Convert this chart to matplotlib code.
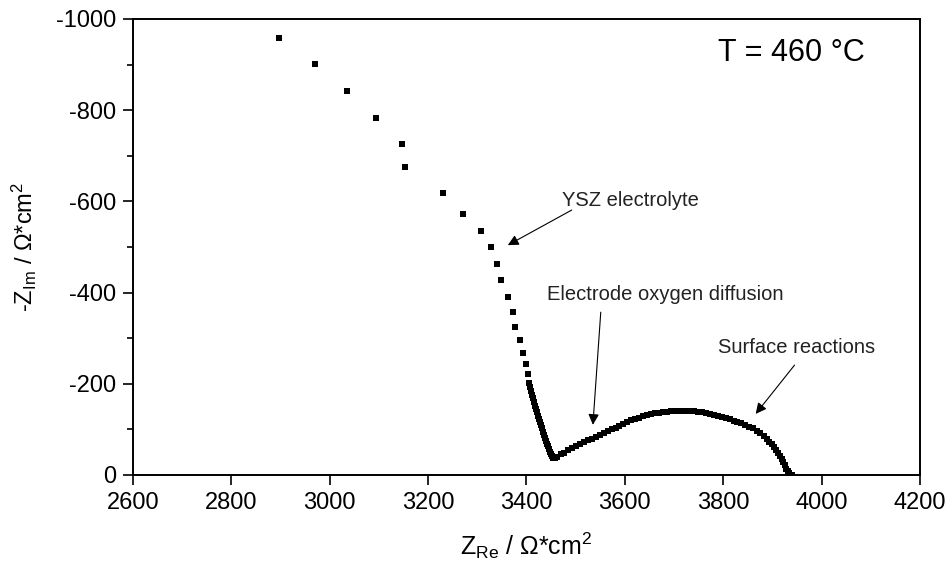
import numpy as np
import matplotlib
matplotlib.use('Agg')
import matplotlib.pyplot as plt

plt.rcParams['font.family'] = ['Liberation Sans', 'DejaVu Sans']
plt.rcParams['mathtext.fontset'] = 'custom'
plt.rcParams['mathtext.rm'] = 'Liberation Sans'
plt.rcParams['mathtext.it'] = 'Liberation Sans:italic'
plt.rcParams['axes.unicode_minus'] = False

# 阻抗谱数据 (Z_Re, Z_Im), 单位 Ω*cm2
z_re = [2896, 2971, 3036, 3094, 3146, 3153, 3231, 3271, 3307, 3328,
        3341, 3349, 3362, 3373, 3376, 3386, 3393, 3399, 3403,
        3405, 3407, 3409, 3411, 3413, 3415, 3417, 3419, 3421, 3423,
        3425, 3427, 3429, 3431, 3433, 3435, 3437, 3439, 3441, 3443,
        3445, 3447, 3449, 3451, 3454, 3458, 3463, 3470, 3477, 3485,
        3493, 3501, 3509, 3517, 3525, 3533, 3541, 3549, 3557, 3565,
        3573, 3581, 3589, 3597, 3605, 3613, 3621, 3629, 3637, 3645,
        3653, 3661, 3669, 3677, 3685, 3693, 3701, 3709, 3717, 3725,
        3733, 3741, 3749, 3757, 3765, 3773, 3781, 3789, 3797, 3805,
        3813, 3821, 3829, 3837, 3845, 3853, 3861, 3868, 3875, 3882,
        3888, 3894, 3899, 3904, 3908, 3912, 3916, 3919, 3922, 3925,
        3928, 3931, 3934, 3937, 3940]
z_im = [-959, -901, -843, -782, -726, -675, -619, -573, -535, -501,
        -463, -428, -391, -357, -324, -296, -267, -243, -221,
        -201, -192, -184, -176, -168, -160, -152, -145, -138, -130,
        -123, -116, -109, -102, -95, -88, -82, -75, -69, -63,
        -57, -51, -46, -42, -38, -37, -40, -45, -49, -54,
        -59, -63, -67, -72, -76, -80, -84, -88, -92, -96,
        -100, -104, -108, -112, -116, -120, -123, -126, -129, -131,
        -133, -135, -137, -138, -139, -140, -141, -141, -141, -141,
        -140, -140, -139, -138, -136, -134, -132, -130, -128, -125,
        -122, -119, -116, -113, -110, -106, -102, -97, -92, -86,
        -80, -73, -67, -61, -55, -48, -42, -35, -28, -21,
        -14, -8, -4, -1, 0]

x_ticks = [2600, 2800, 3000, 3200, 3400, 3600, 3800, 4000, 4200]
y_ticks = [0, -200, -400, -600, -800, -1000]

fig = plt.figure(figsize=(9.5, 5.77), dpi=100, facecolor='white')
ax = fig.add_axes([0.14, 0.1768, 0.8284, 0.7903])

ax.plot(z_re, z_im, 's', color='black', markersize=5, markeredgewidth=0)

ax.set_xlim(2600, 4200)
ax.set_ylim(0, -1000)
ax.set_xticks(x_ticks)
ax.set_yticks(y_ticks)
ax.set_yticks([-100, -300, -500, -700, -900], minor=True)
ax.tick_params(axis='both', which='major', direction='out', length=7, width=1.2,
               labelsize=17, pad=5)
ax.tick_params(axis='y', which='minor', direction='out', length=4, width=1.2)
for s in ax.spines.values():
    s.set_linewidth(1.4)

ax.set_xlabel(r'Z$_{\mathrm{Re}}$ / Ω*cm$^{2}$', fontsize=18, labelpad=12)
ax.set_ylabel(r'-Z$_{\mathrm{Im}}$ / Ω*cm$^{2}$', fontsize=17, labelpad=12)

# 标注文字和箭头
ax.text(3789, -925, 'T = 460 °C', fontsize=22, va='center', ha='left')
arrow = dict(arrowstyle='-|>', color='black', lw=0.8, mutation_scale=16,
             shrinkA=0, shrinkB=0)
ax.text(3472, -603, 'YSZ electrolyte', fontsize=14.5, va='center', color='#222222')
ax.annotate('', xy=(3362, -504), xytext=(3492, -581), arrowprops=arrow)
ax.text(3441, -395, 'Electrode oxygen diffusion', fontsize=14.5, va='center', color='#222222')
ax.annotate('', xy=(3535, -110), xytext=(3551, -357), arrowprops=arrow)
ax.text(3789, -279, 'Surface reactions', fontsize=14.5, va='center', color='#222222')
ax.annotate('', xy=(3866, -134), xytext=(3945, -241), arrowprops=arrow)

plt.savefig('out.png', dpi=100)
